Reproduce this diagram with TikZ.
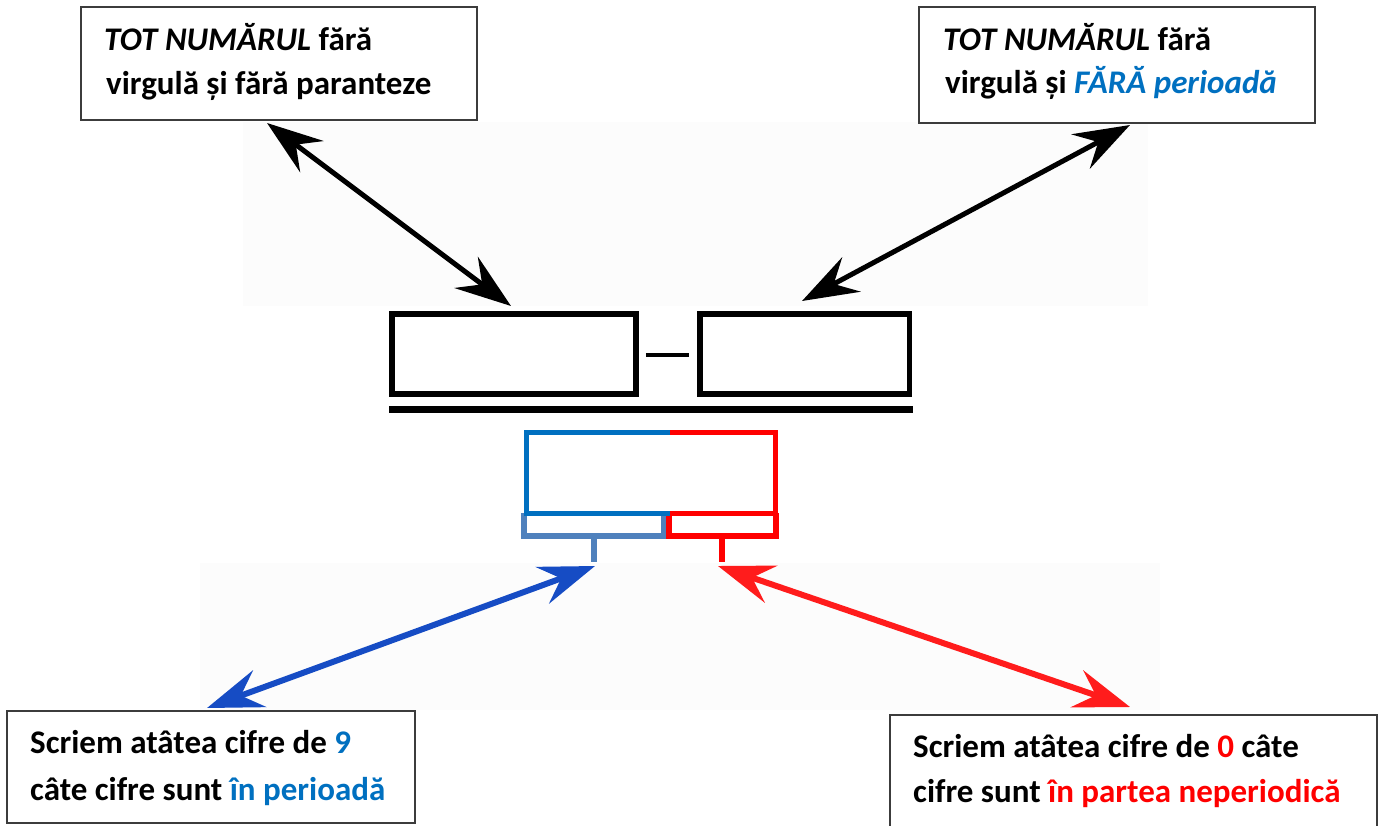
\documentclass[tikz,border=0pt]{standalone}
\usepackage{fontspec}
\setmainfont{Carlito}
\usetikzlibrary{arrows.meta,calc}
\definecolor{txtblue}{RGB}{0,112,192}
\definecolor{steelblue}{RGB}{79,129,189}
\definecolor{arrblue}{RGB}{22,76,196}
\definecolor{arrred}{RGB}{255,28,28}
\definecolor{panel}{RGB}{252,252,252}
\definecolor{frame}{RGB}{60,60,60}
\definecolor{txtred}{RGB}{255,0,0}

\begin{document}
\begin{tikzpicture}[x=1pt,y=-1pt,
  note/.style={draw=frame, line width=1.5pt, fill=white, rectangle, inner sep=0pt},
  txt/.style={anchor=base west, inner sep=0pt, font=\fontsize{33}{44}\selectfont\bfseries},
  slot/.style={draw=black, line width=5.5pt, rectangle, inner sep=0pt, minimum height=80pt},
  dbl/.style={{Stealth[length=56pt,width=39pt,inset=20pt]}-{Stealth[length=56pt,width=39pt,inset=20pt]}},
]
\useasboundingbox (0,0) rectangle (1387,825);

% faint panels behind the connectors
\fill[panel] (243,122) rectangle (1148,306);
\fill[panel] (200,563) rectangle (1160,710);

% text boxes
\node[note, minimum width=396pt, minimum height=113pt] (tl) at (279,63.5) {};
\node[note, minimum width=396pt, minimum height=116pt] (tr) at (1117,65) {};
\node[note, minimum width=408pt, minimum height=112pt] (bl) at (211,767) {};
\node[note, minimum width=487pt, minimum height=120pt] (br) at (1133.5,775) {};

\node[txt] (tl1) at (104,50) {{\itshape TOT NUMĂRUL} fără};
\node[txt] (tl2) at (106,94) {virgulă și fără paranteze};
\node[txt] (tr1) at (943,50) {{\itshape TOT NUMĂRUL} fără};
\node[txt] (tr2) at (945,93) {virgulă și \textcolor{txtblue}{\itshape FĂRĂ perioadă}};
\node[txt] (bl1) at (30,753) {Scriem atâtea cifre de \textcolor{txtblue}{9}};
\node[txt] (bl2) at (30,800) {câte cifre sunt \textcolor{txtblue}{în perioadă}};
\node[txt] (br1) at (913,757) {Scriem atâtea cifre de \textcolor{txtred}{0} câte};
\node[txt] (br2) at (913,802) {cifre sunt \textcolor{txtred}{în partea neperiodică}};

% numerator: two empty slots with a minus sign
\node[slot, minimum width=244pt] (numL) at (514,354) {};
\node[slot, minimum width=209.5pt] (numR) at (804.75,354) {};
\draw[line width=4pt] ($(numL.east)+(7,1)$) -- ($(numR.west)+(-8,1)$);

% fraction bar
\draw[line width=7pt] (389,409.5) -- (913,409.5);

% denominator: brackets under the digit box
\draw[steelblue, line width=6pt] (524,513) -- (524,536) -- (663.5,536) -- (663.5,513);
\draw[txtred, line width=6pt] (669,513) -- (669,536) -- (775.5,536) -- (775.5,513);
\draw[steelblue, line width=6pt] (594,536) -- (594,562);
\draw[txtred, line width=6pt] (721.5,536) -- (721.5,562);
\draw[txtblue, line width=5pt] (670,432.5) -- (526.5,432.5) -- (526.5,513) -- (670,513);
\draw[txtred, line width=5pt] (670,432.5) -- (775,432.5) -- (775,513) -- (670,513);

% connector end points
\coordinate (aTL) at (267,123);
\coordinate (aNL) at (511,306);
\coordinate (aTR) at (1130,125);
\coordinate (aNR) at (802,301);
\coordinate (aB9) at (595,566);
\coordinate (aBL) at (207,708);
\coordinate (aR0) at (718,566);
\coordinate (aBR) at (1130,707);

\draw[dbl, line width=5pt] (aTL) -- (aNL);
\draw[dbl, line width=5pt] (aTR) -- (aNR);
\draw[dbl, arrblue, line width=6pt] (aB9) -- (aBL);
\draw[dbl, arrred, line width=6pt] (aR0) -- (aBR);
\end{tikzpicture}
\end{document}
